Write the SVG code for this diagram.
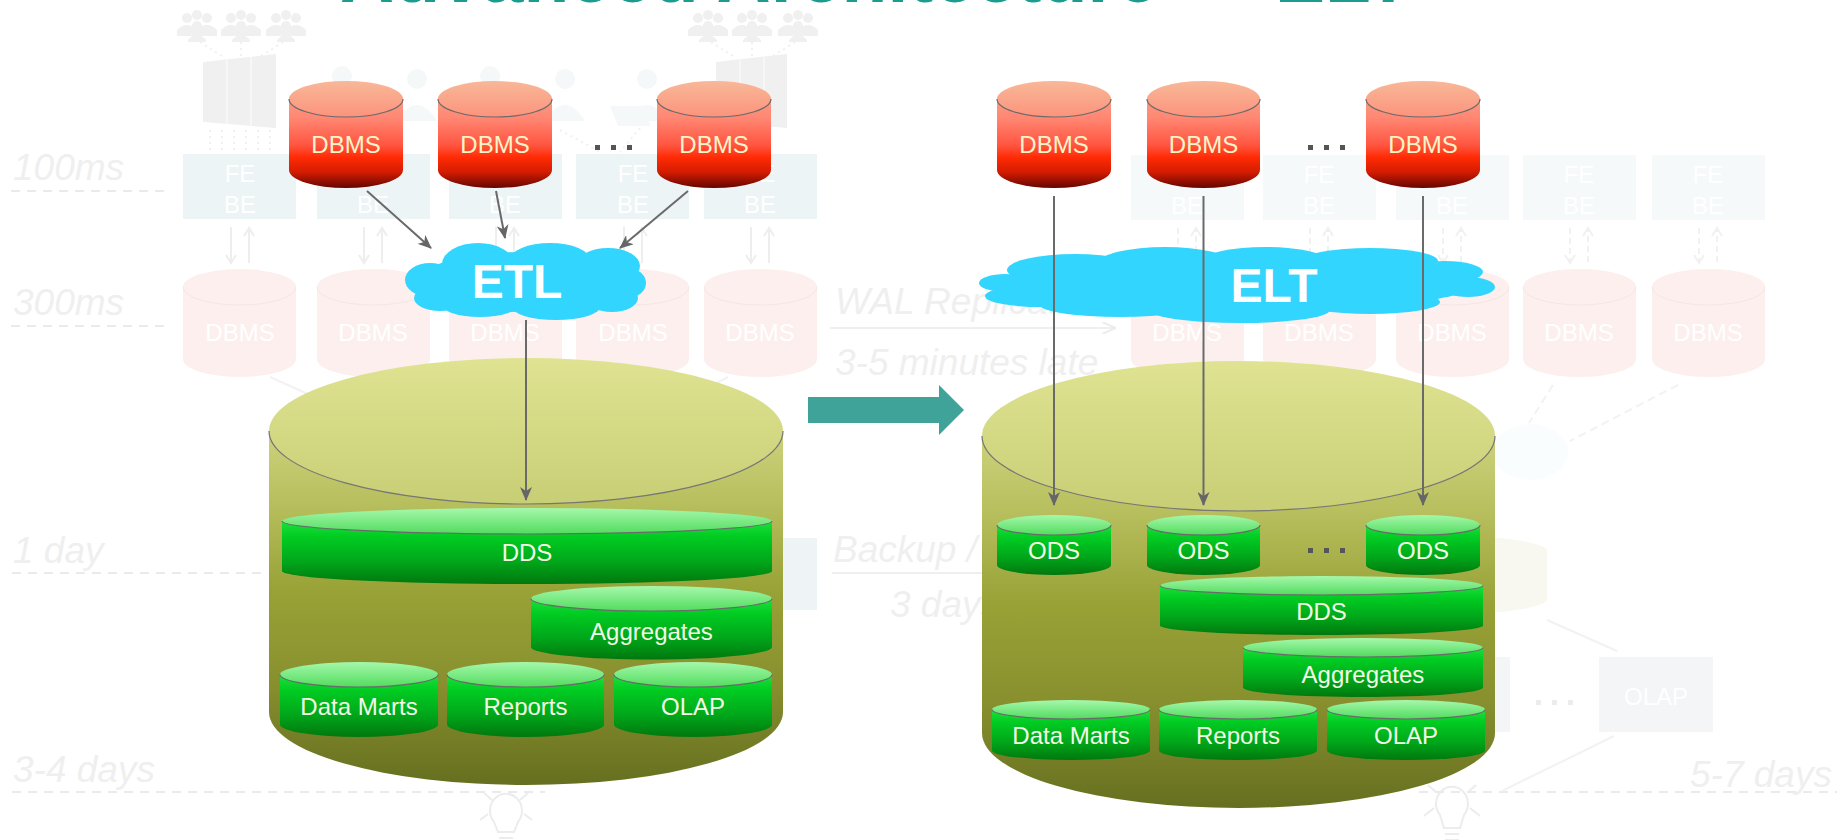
<svg xmlns="http://www.w3.org/2000/svg" width="1837" height="840" viewBox="0 0 1837 840">
  <defs>
    <linearGradient id="redTop" x1="0" y1="0" x2="0" y2="1">
      <stop offset="0" stop-color="#f8b898"/>
      <stop offset="1" stop-color="#fc937c"/>
    </linearGradient>
    <linearGradient id="redBody" x1="0" y1="0" x2="0" y2="1">
      <stop offset="0" stop-color="#fb9a84"/>
      <stop offset="0.22" stop-color="#ff8672"/>
      <stop offset="0.52" stop-color="#ff5540"/>
      <stop offset="0.66" stop-color="#ff2a04"/>
      <stop offset="0.82" stop-color="#d41c00"/>
      <stop offset="1" stop-color="#640600"/>
    </linearGradient>
    <linearGradient id="greenTop" x1="0" y1="0" x2="0" y2="1">
      <stop offset="0" stop-color="#a6f8ab"/>
      <stop offset="1" stop-color="#52dc5f"/>
    </linearGradient>
    <linearGradient id="greenBody" x1="0" y1="0" x2="0" y2="1">
      <stop offset="0" stop-color="#1de03c"/>
      <stop offset="0.25" stop-color="#00cc22"/>
      <stop offset="0.65" stop-color="#00a61a"/>
      <stop offset="1" stop-color="#00780e"/>
    </linearGradient>
    <linearGradient id="olivTop" x1="0" y1="0" x2="0" y2="1">
      <stop offset="0" stop-color="#dfe392"/>
      <stop offset="1" stop-color="#c8ce75"/>
    </linearGradient>
    <linearGradient id="olivBody" x1="0" y1="0" x2="0" y2="1">
      <stop offset="0" stop-color="#ccd27c"/>
      <stop offset="0.2" stop-color="#b8bf5e"/>
      <stop offset="0.45" stop-color="#98a236"/>
      <stop offset="0.7" stop-color="#89912f"/>
      <stop offset="1" stop-color="#666f1f"/>
    </linearGradient>
    <marker id="stealth" viewBox="0 0 14 12" refX="13" refY="6" markerWidth="14" markerHeight="12" markerUnits="userSpaceOnUse" orient="auto">
      <path d="M0,0 L14,6 L0,12 L4,6 Z" fill="#666666"/>
    </marker>
    <marker id="ghostHead" viewBox="0 0 14 12" refX="13" refY="6" markerWidth="14" markerHeight="12" markerUnits="userSpaceOnUse" orient="auto">
      <path d="M0,0 L14,6 L0,12" fill="none" stroke="#ececec" stroke-width="2"/>
    </marker>
  </defs>
  <style>
    text { font-family: "Liberation Sans", Arial, sans-serif; }
    .title { font-size: 75px; font-weight: bold; fill: #1b9c8e; }
    .ghost-label { font-size: 37px; font-style: italic; fill: #efefef; }
    .ghost-dash { stroke: #eaeaea; stroke-width: 2; stroke-dasharray: 9 7; fill: none; }
    .ghost-box { fill: #ecf4f5; }
    .ghost-box-r { fill: #f6f9fa; }
    .ghost-box-text { font-size: 24px; fill: #ffffff; text-anchor: middle; }
    .ghost-cyl { fill: #fcefee; }
    .ghost-cyl-rim { fill: none; stroke: #f5e6e5; stroke-width: 1; }
    .ghost-line { stroke: #efefef; stroke-width: 2; fill: none; }
    .ghost-icon { fill: #f0f0f0; }
    .ghost-person { fill: #f5f8f8; }
    .red .body { fill: url(#redBody); }
    .red .top { fill: url(#redTop); }
    .green .body { fill: url(#greenBody); }
    .green .top { fill: url(#greenTop); }
    .rim { fill: none; stroke: #6a6a6a; stroke-width: 1.2; }
    .red text { font-size: 24px; fill: #fdf4c8; text-anchor: middle; }
    .green text { font-size: 24px; fill: #f3fbe4; text-anchor: middle; }
    .store .body { fill: url(#olivBody); }
    .store .top { fill: url(#olivTop); }
    .store .rim { stroke: #767676; stroke-width: 1.2; }
    .cloud { fill: #32d5fd; }
    .cloud text { font-size: 48px; font-weight: bold; fill: #ffffff; text-anchor: middle; }
    .link { stroke: #6a6a6a; stroke-width: 2; fill: none; marker-end: url(#stealth); }
    .dots rect { fill: #555555; }
  </style>

  <rect width="1837" height="840" fill="#ffffff"/>

  <!-- heading, mostly above the top edge -->
  <text class="title" x="340" y="2">Advanced Architecture — ELT</text>

  <!-- faded backdrop: latency lanes of the operational system -->
  <g id="backdrop">
    <text class="ghost-label" x="13" y="180">100ms</text>
    <path class="ghost-dash" d="M11,191 H171"/>
    <text class="ghost-label" x="13" y="315">300ms</text>
    <path class="ghost-dash" d="M11,326 H171"/>
    <text class="ghost-label" x="13" y="563">1 day</text>
    <path class="ghost-dash" d="M12,573 H268"/>
    <text class="ghost-label" x="13" y="782">3-4 days</text>
    <path class="ghost-dash" d="M12,792 H545"/>
    <path class="ghost-dash" d="M1419,792 H1837"/>
    <text class="ghost-label" x="1690" y="787">5-7 days</text>
    <text class="ghost-label" x="835" y="314">WAL Replication</text>
    <path class="ghost-line" d="M830,328 H1115" marker-end="url(#ghostHead)"/>
    <text class="ghost-label" x="835" y="375">3-5 minutes late</text>
    <text class="ghost-label" x="833" y="562">Backup /</text>
    <path class="ghost-line" d="M832,573 H985"/>
    <text class="ghost-label" x="890" y="617">3 days</text>

    <!-- crowds -->
    <g class="ghost-icon">
      <g transform="translate(197,24)"><circle cx="-10" cy="-6" r="5"/><circle cx="10" cy="-6" r="5"/><circle cx="0" cy="-9" r="5"/><circle cx="0" cy="2" r="5"/><path d="M-20,6 Q-10,-4 0,6 Q10,-4 20,6 V12 H-20 Z"/><path d="M-9,16 Q0,6 9,16 V18 H-9 Z"/></g>
      <g transform="translate(241,24)"><circle cx="-10" cy="-6" r="5"/><circle cx="10" cy="-6" r="5"/><circle cx="0" cy="-9" r="5"/><circle cx="0" cy="2" r="5"/><path d="M-20,6 Q-10,-4 0,6 Q10,-4 20,6 V12 H-20 Z"/><path d="M-9,16 Q0,6 9,16 V18 H-9 Z"/></g>
      <g transform="translate(286,24)"><circle cx="-10" cy="-6" r="5"/><circle cx="10" cy="-6" r="5"/><circle cx="0" cy="-9" r="5"/><circle cx="0" cy="2" r="5"/><path d="M-20,6 Q-10,-4 0,6 Q10,-4 20,6 V12 H-20 Z"/><path d="M-9,16 Q0,6 9,16 V18 H-9 Z"/></g>
      <g transform="translate(708,24)"><circle cx="-10" cy="-6" r="5"/><circle cx="10" cy="-6" r="5"/><circle cx="0" cy="-9" r="5"/><circle cx="0" cy="2" r="5"/><path d="M-20,6 Q-10,-4 0,6 Q10,-4 20,6 V12 H-20 Z"/><path d="M-9,16 Q0,6 9,16 V18 H-9 Z"/></g>
      <g transform="translate(752,24)"><circle cx="-10" cy="-6" r="5"/><circle cx="10" cy="-6" r="5"/><circle cx="0" cy="-9" r="5"/><circle cx="0" cy="2" r="5"/><path d="M-20,6 Q-10,-4 0,6 Q10,-4 20,6 V12 H-20 Z"/><path d="M-9,16 Q0,6 9,16 V18 H-9 Z"/></g>
      <g transform="translate(798,24)"><circle cx="-10" cy="-6" r="5"/><circle cx="10" cy="-6" r="5"/><circle cx="0" cy="-9" r="5"/><circle cx="0" cy="2" r="5"/><path d="M-20,6 Q-10,-4 0,6 Q10,-4 20,6 V12 H-20 Z"/><path d="M-9,16 Q0,6 9,16 V18 H-9 Z"/></g>
    </g>
    <g stroke="#f0f0f0" stroke-width="2" stroke-dasharray="2 4" fill="none">
      <path d="M200,42 L225,58 M241,42 V58 M283,42 L258,58"/>
      <path d="M711,42 L736,58 M752,42 V58 M795,42 L770,58"/>
      <path d="M210,130 V152 M222,130 V152 M234,130 V152 M246,130 V152 M258,130 V152 M270,130 V152"/>
      <path d="M340,130 L380,152 M500,128 L470,152 M560,130 L600,152 M640,128 L620,152"/>
    </g>
    <!-- server racks -->
    <g class="ghost-icon">
      <path d="M203,62 L276,54 V128 L203,122 Z"/>
      <path d="M716,62 L787,54 V128 L716,122 Z"/>
    </g>
    <g stroke="#f9f9f9" stroke-width="1.5">
      <path d="M227,60 V124 M251,57 V126"/>
      <path d="M740,60 V124 M764,57 V126"/>
    </g>
    <!-- users at desks -->
    <g class="ghost-person">
      <circle cx="342" cy="76" r="10"/><path d="M322,118 Q342,86 362,118 Z"/>
      <circle cx="417" cy="79" r="10"/><path d="M397,121 Q417,89 437,121 Z"/>
      <circle cx="490" cy="76" r="10"/><path d="M470,118 Q490,86 510,118 Z"/>
      <circle cx="565" cy="79" r="10"/><path d="M545,121 Q565,89 585,121 Z"/>
      <circle cx="647" cy="79" r="10"/><path d="M627,121 Q647,89 667,121 Z"/>
      <path d="M610,106 H645 L650,126 H618 Z"/>
    </g>

    <!-- FE/BE tiers, left group -->
    <g>
      <rect class="ghost-box" x="183" y="154" width="113" height="65"/>
      <rect class="ghost-box" x="317" y="154" width="113" height="65"/>
      <rect class="ghost-box" x="449" y="154" width="113" height="65"/>
      <rect class="ghost-box" x="576" y="154" width="113" height="65"/>
      <rect class="ghost-box" x="704" y="154" width="113" height="65"/>
      <g class="ghost-box-text">
        <text x="240" y="182">FE</text><text x="240" y="213">BE</text>
        <text x="373" y="182">FE</text><text x="373" y="213">BE</text>
        <text x="505" y="182">FE</text><text x="505" y="213">BE</text>
        <text x="633" y="182">FE</text><text x="633" y="213">BE</text>
        <text x="760" y="182">FE</text><text x="760" y="213">BE</text>
      </g>
    </g>
    <!-- FE/BE tiers, right group -->
    <g>
      <rect class="ghost-box-r" x="1131" y="155" width="113" height="65"/>
      <rect class="ghost-box-r" x="1263" y="155" width="113" height="65"/>
      <rect class="ghost-box-r" x="1396" y="155" width="113" height="65"/>
      <rect class="ghost-box-r" x="1523" y="155" width="113" height="65"/>
      <rect class="ghost-box-r" x="1652" y="155" width="113" height="65"/>
      <g class="ghost-box-text">
        <text x="1187" y="183">FE</text><text x="1187" y="214">BE</text>
        <text x="1319" y="183">FE</text><text x="1319" y="214">BE</text>
        <text x="1452" y="183">FE</text><text x="1452" y="214">BE</text>
        <text x="1579" y="183">FE</text><text x="1579" y="214">BE</text>
        <text x="1708" y="183">FE</text><text x="1708" y="214">BE</text>
      </g>
    </g>
    <!-- tier links -->
    <g stroke="#eeeeee" stroke-width="2" fill="none">
      <path d="M231,227 V262 M226,255 L231,263 L236,255 M249,263 V228 M244,236 L249,228 L254,236"/>
      <path d="M364,227 V262 M359,255 L364,263 L369,255 M382,263 V228 M377,236 L382,228 L387,236"/>
      <path d="M496,227 V262 M491,255 L496,263 L501,255 M514,263 V228 M509,236 L514,228 L519,236"/>
      <path d="M624,227 V262 M619,255 L624,263 L629,255 M642,263 V228 M637,236 L642,228 L647,236"/>
      <path d="M751,227 V262 M746,255 L751,263 L756,255 M769,263 V228 M764,236 L769,228 L774,236"/>
    </g>
    <g stroke="#f1f1f1" stroke-width="2" fill="none">
      <g stroke-dasharray="6 4">
        <path d="M1178,228 V262 M1196,262 V228 M1310,228 V262 M1328,262 V228 M1443,228 V262 M1461,262 V228 M1570,228 V262 M1588,262 V228 M1699,228 V262 M1717,262 V228"/>
      </g>
      <path d="M1173,255 L1178,263 L1183,255 M1191,236 L1196,228 L1201,236 M1305,255 L1310,263 L1315,255 M1323,236 L1328,228 L1333,236 M1438,255 L1443,263 L1448,255 M1456,236 L1461,228 L1466,236 M1565,255 L1570,263 L1575,255 M1583,236 L1588,228 L1593,236 M1694,255 L1699,263 L1704,255 M1712,236 L1717,228 L1722,236"/>
    </g>
    <!-- replica databases -->
    <g>
      <path class="ghost-cyl" d="M183,287 V359 A56.5,18 0 0 0 296,359 V287 A56.5,18 0 0 0 183,287 Z"/>
      <path class="ghost-cyl" d="M317,287 V359 A56.5,18 0 0 0 430,359 V287 A56.5,18 0 0 0 317,287 Z"/>
      <path class="ghost-cyl" d="M449,287 V359 A56.5,18 0 0 0 562,359 V287 A56.5,18 0 0 0 449,287 Z"/>
      <path class="ghost-cyl" d="M576,287 V359 A56.5,18 0 0 0 689,359 V287 A56.5,18 0 0 0 576,287 Z"/>
      <path class="ghost-cyl" d="M704,287 V359 A56.5,18 0 0 0 817,359 V287 A56.5,18 0 0 0 704,287 Z"/>
      <path class="ghost-cyl" d="M1131,287 V359 A56.5,18 0 0 0 1244,359 V287 A56.5,18 0 0 0 1131,287 Z"/>
      <path class="ghost-cyl" d="M1263,287 V359 A56.5,18 0 0 0 1376,359 V287 A56.5,18 0 0 0 1263,287 Z"/>
      <path class="ghost-cyl" d="M1396,287 V359 A56.5,18 0 0 0 1509,359 V287 A56.5,18 0 0 0 1396,287 Z"/>
      <path class="ghost-cyl" d="M1523,287 V359 A56.5,18 0 0 0 1636,359 V287 A56.5,18 0 0 0 1523,287 Z"/>
      <path class="ghost-cyl" d="M1652,287 V359 A56.5,18 0 0 0 1765,359 V287 A56.5,18 0 0 0 1652,287 Z"/>
      <path class="ghost-cyl-rim" d="M183,287 A56.5,18 0 0 0 296,287 M317,287 A56.5,18 0 0 0 430,287 M449,287 A56.5,18 0 0 0 562,287 M576,287 A56.5,18 0 0 0 689,287 M704,287 A56.5,18 0 0 0 817,287 M1131,287 A56.5,18 0 0 0 1244,287 M1263,287 A56.5,18 0 0 0 1376,287 M1396,287 A56.5,18 0 0 0 1509,287 M1523,287 A56.5,18 0 0 0 1636,287 M1652,287 A56.5,18 0 0 0 1765,287"/>
      <g class="ghost-box-text">
        <text x="240" y="341">DBMS</text><text x="373" y="341">DBMS</text><text x="505" y="341">DBMS</text>
        <text x="633" y="341">DBMS</text><text x="760" y="341">DBMS</text>
        <text x="1187" y="341">DBMS</text><text x="1319" y="341">DBMS</text><text x="1452" y="341">DBMS</text>
        <text x="1579" y="341">DBMS</text><text x="1708" y="341">DBMS</text>
      </g>
    </g>
    <!-- feeds into the warehouse area -->
    <g stroke="#f2f2f2" stroke-width="2" fill="none">
      <path d="M270,377 L310,395 M728,377 L700,392"/>
      <path d="M1553,385 L1529,423 M1678,385 L1570,441" stroke-dasharray="8 5"/>
      <path d="M1547,620 L1617,651 M1614,736 L1502,791"/>
    </g>
    <ellipse cx="1530" cy="452" rx="38" ry="28" fill="#f9fdfe"/>
    <path d="M1380,550 V600 A84,15 0 0 0 1547,600 V550 A84,15 0 0 0 1380,550 Z" fill="#f8f8f1"/>
    <rect x="1485" y="657" width="25" height="75" fill="#f4f5f7"/>
    <rect x="1599" y="657" width="114" height="75" fill="#f4f5f7"/>
    <text class="ghost-box-text" x="1656" y="705">OLAP</text>
    <g fill="#ececec">
      <rect x="1536" y="700" width="5" height="5"/><rect x="1552" y="700" width="5" height="5"/><rect x="1568" y="700" width="5" height="5"/>
    </g>
    <rect x="783" y="538" width="34" height="72" fill="#eef4f5"/>
    <!-- light bulbs -->
    <g stroke="#ececec" stroke-width="2" fill="none">
      <path d="M494,822 A16,17 0 1 1 518,822 L514,832 H498 Z M499,838 H513 M492,800 L484,793 M520,800 L528,793 M488,814 L480,820 M524,814 L532,820"/>
      <path d="M1440,815 A16,17 0 1 1 1464,815 L1460,828 H1444 Z M1445,834 H1459 M1445,840 H1459 M1436,792 L1428,785 M1468,792 L1476,785 M1434,808 L1424,816 M1470,808 L1480,816"/>
    </g>
  </g>

  <!-- warehouse stores -->
  <g id="dwh-etl" class="store">
    <path class="body" d="M269,431 V712 A257,73 0 0 0 783,712 V431 Z"/>
    <ellipse class="top" cx="526" cy="431" rx="257" ry="73"/>
    <path class="rim" d="M269,431 A257,73 0 0 0 783,431"/>
  </g>
  <g id="dwh-elt" class="store">
    <path class="body" d="M982,436 V733 A256.5,75 0 0 0 1495,733 V436 Z"/>
    <ellipse class="top" cx="1238.5" cy="436" rx="256.5" ry="75"/>
    <path class="rim" d="M982,436 A256.5,75 0 0 0 1495,436"/>
  </g>

  <!-- transfer arrow -->
  <polygon id="shift-arrow" points="808,397 939,397 939,385 964,410 939,435 939,423 808,423" fill="#3fa39a"/>

  <!-- clouds -->
  <g id="etl" class="cloud">
    <ellipse cx="525" cy="282" rx="108" ry="30"/>
    <ellipse cx="478" cy="264" rx="36" ry="21"/>
    <ellipse cx="550" cy="260" rx="40" ry="17"/>
    <ellipse cx="608" cy="266" rx="32" ry="18"/>
    <ellipse cx="430" cy="280" rx="25" ry="17"/>
    <ellipse cx="440" cy="298" rx="26" ry="13"/>
    <ellipse cx="480" cy="303" rx="40" ry="14"/>
    <ellipse cx="556" cy="306" rx="45" ry="14"/>
    <ellipse cx="612" cy="298" rx="26" ry="14"/>
    <ellipse cx="628" cy="283" rx="18" ry="15"/>
    <text x="517" y="298">ETL</text>
  </g>
  <g id="elt" class="cloud">
    <ellipse cx="1238" cy="285" rx="235" ry="26"/>
    <ellipse cx="1075" cy="270" rx="68" ry="16"/>
    <ellipse cx="1165" cy="262" rx="65" ry="15"/>
    <ellipse cx="1265" cy="260" rx="60" ry="13"/>
    <ellipse cx="1370" cy="261" rx="68" ry="13"/>
    <ellipse cx="1445" cy="272" rx="38" ry="11"/>
    <ellipse cx="1005" cy="283" rx="26" ry="9"/>
    <ellipse cx="1040" cy="296" rx="55" ry="11"/>
    <ellipse cx="1120" cy="305" rx="80" ry="12"/>
    <ellipse cx="1240" cy="310" rx="90" ry="13"/>
    <ellipse cx="1370" cy="302" rx="70" ry="12"/>
    <ellipse cx="1468" cy="287" rx="27" ry="10"/>
    <text x="1274" y="302">ELT</text>
  </g>

  <!-- source databases, ETL side -->
  <g id="src-etl-1" class="red">
    <path class="body" d="M289,99 V170 A57,18 0 0 0 403,170 V99 Z"/>
    <ellipse class="top" cx="346" cy="99" rx="57" ry="18"/>
    <path class="rim" d="M289,99 A57,18 0 0 0 403,99"/>
    <text x="346" y="153">DBMS</text>
  </g>
  <g id="src-etl-2" class="red">
    <path class="body" d="M438,99 V170 A57,18 0 0 0 552,170 V99 Z"/>
    <ellipse class="top" cx="495" cy="99" rx="57" ry="18"/>
    <path class="rim" d="M438,99 A57,18 0 0 0 552,99"/>
    <text x="495" y="153">DBMS</text>
  </g>
  <g id="src-etl-dots" class="dots">
    <rect x="595" y="145" width="5" height="5"/><rect x="611" y="145" width="5" height="5"/><rect x="627" y="145" width="5" height="5"/>
  </g>
  <g id="src-etl-n" class="red">
    <path class="body" d="M657,99 V170 A57,18 0 0 0 771,170 V99 Z"/>
    <ellipse class="top" cx="714" cy="99" rx="57" ry="18"/>
    <path class="rim" d="M657,99 A57,18 0 0 0 771,99"/>
    <text x="714" y="153">DBMS</text>
  </g>

  <!-- source databases, ELT side -->
  <g id="src-elt-1" class="red">
    <path class="body" d="M997,99 V170 A57,18 0 0 0 1111,170 V99 Z"/>
    <ellipse class="top" cx="1054" cy="99" rx="57" ry="18"/>
    <path class="rim" d="M997,99 A57,18 0 0 0 1111,99"/>
    <text x="1054" y="153">DBMS</text>
  </g>
  <g id="src-elt-2" class="red">
    <path class="body" d="M1147,99 V170 A56.5,18 0 0 0 1260,170 V99 Z"/>
    <ellipse class="top" cx="1203.5" cy="99" rx="56.5" ry="18"/>
    <path class="rim" d="M1147,99 A56.5,18 0 0 0 1260,99"/>
    <text x="1203.5" y="153">DBMS</text>
  </g>
  <g id="src-elt-dots" class="dots">
    <rect x="1308" y="145" width="5" height="5"/><rect x="1324" y="145" width="5" height="5"/><rect x="1340" y="145" width="5" height="5"/>
  </g>
  <g id="src-elt-n" class="red">
    <path class="body" d="M1366,99 V170 A57,18 0 0 0 1480,170 V99 Z"/>
    <ellipse class="top" cx="1423" cy="99" rx="57" ry="18"/>
    <path class="rim" d="M1366,99 A57,18 0 0 0 1480,99"/>
    <text x="1423" y="153">DBMS</text>
  </g>

  <!-- ETL warehouse layers -->
  <g id="etl-dds" class="green">
    <path class="body" d="M282,521 V571 A245,13 0 0 0 772,571 V521 Z"/>
    <ellipse class="top" cx="527" cy="521" rx="245" ry="13"/>
    <path class="rim" d="M282,521 A245,13 0 0 0 772,521"/>
    <text x="527" y="561">DDS</text>
  </g>
  <g id="etl-aggregates" class="green">
    <path class="body" d="M531,598.5 V647 A120.5,12.5 0 0 0 772,647 V598.5 Z"/>
    <ellipse class="top" cx="651.5" cy="598.5" rx="120.5" ry="12.5"/>
    <path class="rim" d="M531,598.5 A120.5,12.5 0 0 0 772,598.5"/>
    <text x="651.5" y="640">Aggregates</text>
  </g>
  <g id="etl-marts" class="green">
    <path class="body" d="M280,674.5 V724.5 A79,12.5 0 0 0 438,724.5 V674.5 Z"/>
    <ellipse class="top" cx="359" cy="674.5" rx="79" ry="12.5"/>
    <path class="rim" d="M280,674.5 A79,12.5 0 0 0 438,674.5"/>
    <text x="359" y="715">Data Marts</text>
  </g>
  <g id="etl-reports" class="green">
    <path class="body" d="M447,674.5 V724.5 A78.5,12.5 0 0 0 604,724.5 V674.5 Z"/>
    <ellipse class="top" cx="525.5" cy="674.5" rx="78.5" ry="12.5"/>
    <path class="rim" d="M447,674.5 A78.5,12.5 0 0 0 604,674.5"/>
    <text x="525.5" y="715">Reports</text>
  </g>
  <g id="etl-olap" class="green">
    <path class="body" d="M614,674.5 V724.5 A79,12.5 0 0 0 772,724.5 V674.5 Z"/>
    <ellipse class="top" cx="693" cy="674.5" rx="79" ry="12.5"/>
    <path class="rim" d="M614,674.5 A79,12.5 0 0 0 772,674.5"/>
    <text x="693" y="715">OLAP</text>
  </g>

  <!-- ELT warehouse layers -->
  <g id="elt-ods-1" class="green">
    <path class="body" d="M997,525 V565 A57,10 0 0 0 1111,565 V525 Z"/>
    <ellipse class="top" cx="1054" cy="525" rx="57" ry="10"/>
    <path class="rim" d="M997,525 A57,10 0 0 0 1111,525"/>
    <text x="1054" y="559">ODS</text>
  </g>
  <g id="elt-ods-2" class="green">
    <path class="body" d="M1147,525 V565 A56.5,10 0 0 0 1260,565 V525 Z"/>
    <ellipse class="top" cx="1203.5" cy="525" rx="56.5" ry="10"/>
    <path class="rim" d="M1147,525 A56.5,10 0 0 0 1260,525"/>
    <text x="1203.5" y="559">ODS</text>
  </g>
  <g id="elt-ods-dots" class="dots">
    <rect x="1308" y="548" width="5" height="5"/><rect x="1324" y="548" width="5" height="5"/><rect x="1340" y="548" width="5" height="5"/>
  </g>
  <g id="elt-ods-n" class="green">
    <path class="body" d="M1366,525 V565 A57,10 0 0 0 1480,565 V525 Z"/>
    <ellipse class="top" cx="1423" cy="525" rx="57" ry="10"/>
    <path class="rim" d="M1366,525 A57,10 0 0 0 1480,525"/>
    <text x="1423" y="559">ODS</text>
  </g>
  <g id="elt-dds" class="green">
    <path class="body" d="M1160,585.5 V625.5 A161.5,9.5 0 0 0 1483,625.5 V585.5 Z"/>
    <ellipse class="top" cx="1321.5" cy="585.5" rx="161.5" ry="9.5"/>
    <path class="rim" d="M1160,585.5 A161.5,9.5 0 0 0 1483,585.5"/>
    <text x="1321.5" y="620">DDS</text>
  </g>
  <g id="elt-aggregates" class="green">
    <path class="body" d="M1243,647.5 V687.5 A120,9.5 0 0 0 1483,687.5 V647.5 Z"/>
    <ellipse class="top" cx="1363" cy="647.5" rx="120" ry="9.5"/>
    <path class="rim" d="M1243,647.5 A120,9.5 0 0 0 1483,647.5"/>
    <text x="1363" y="683">Aggregates</text>
  </g>
  <g id="elt-marts" class="green">
    <path class="body" d="M992,709.5 V750.5 A79,9.5 0 0 0 1150,750.5 V709.5 Z"/>
    <ellipse class="top" cx="1071" cy="709.5" rx="79" ry="9.5"/>
    <path class="rim" d="M992,709.5 A79,9.5 0 0 0 1150,709.5"/>
    <text x="1071" y="744">Data Marts</text>
  </g>
  <g id="elt-reports" class="green">
    <path class="body" d="M1159,709.5 V750.5 A79,9.5 0 0 0 1317,750.5 V709.5 Z"/>
    <ellipse class="top" cx="1238" cy="709.5" rx="79" ry="9.5"/>
    <path class="rim" d="M1159,709.5 A79,9.5 0 0 0 1317,709.5"/>
    <text x="1238" y="744">Reports</text>
  </g>
  <g id="elt-olap" class="green">
    <path class="body" d="M1327,709.5 V750.5 A79,9.5 0 0 0 1485,750.5 V709.5 Z"/>
    <ellipse class="top" cx="1406" cy="709.5" rx="79" ry="9.5"/>
    <path class="rim" d="M1327,709.5 A79,9.5 0 0 0 1485,709.5"/>
    <text x="1406" y="744">OLAP</text>
  </g>

  <!-- data flows -->
  <g id="connectors">
    <path class="link" d="M367,191 L431,248"/>
    <path class="link" d="M496,191 L505,238"/>
    <path class="link" d="M688,191 L620,248"/>
    <path class="link" d="M526,320 V500"/>
    <path class="link" d="M1054,196 V505"/>
    <path class="link" d="M1203.5,196 V505"/>
    <path class="link" d="M1423,196 V505"/>
  </g>
</svg>
